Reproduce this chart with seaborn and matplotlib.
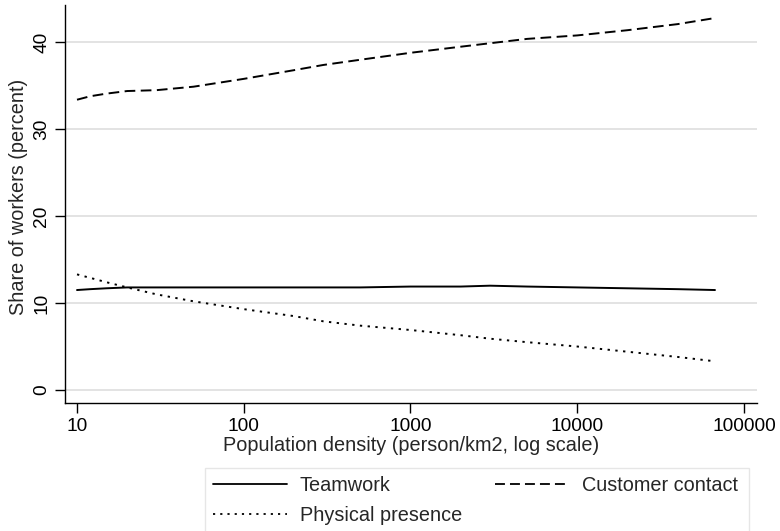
import matplotlib
matplotlib.use("Agg")
import matplotlib.pyplot as plt
from matplotlib.patches import Rectangle
import pandas as pd
import seaborn as sns

# Population density grid (person/km2) and smoothed shares (percent)
density = [10, 12, 15, 20, 30, 50, 100, 200, 300, 500, 1000, 2000, 3000, 5000, 10000, 20000, 40000, 67000]
teamwork = [11.5, 11.6, 11.7, 11.8, 11.8, 11.8, 11.8, 11.8, 11.8, 11.8, 11.9, 11.9, 12.0, 11.9, 11.8, 11.7, 11.6, 11.5]
customer_contact = [33.4, 33.8, 34.1, 34.4, 34.5, 34.9, 35.8, 36.8, 37.4, 38.0, 38.8, 39.5, 39.9, 40.4, 40.8, 41.4, 42.1, 42.8]
physical_presence = [13.3, 12.9, 12.4, 11.8, 11.0, 10.2, 9.3, 8.5, 7.9, 7.4, 6.9, 6.3, 5.9, 5.5, 5.0, 4.4, 3.8, 3.3]

series_names = ["Teamwork", "Customer contact", "Physical presence"]

df = pd.DataFrame({
    "density": density * 3,
    "share": teamwork + customer_contact + physical_presence,
    "series": sum([[n] * len(density) for n in series_names], []),
})

sns.set_style("white")
plt.rcParams["font.family"] = ["Liberation Sans", "DejaVu Sans"]
FS = 14.3
TICK_FS = 13.8
DASH = (5.5, 2.8)
DOT = (1.2, 2.8)

fig = plt.figure(figsize=(7.8, 5.31), dpi=100)
ax = fig.add_axes([65 / 780, 1 - 403 / 531, (757 - 65) / 780, (403 - 5) / 531])

sns.lineplot(data=df, x="density", y="share", hue="series", style="series",
             hue_order=series_names, style_order=series_names,
             palette=["black"] * 3,
             dashes={"Teamwork": "", "Customer contact": DASH, "Physical presence": DOT},
             linewidth=1.4, ax=ax, legend=False)

ax.set_xscale("log")
ax.set_xlim(10 ** 0.928, 10 ** 5.078)
ax.set_ylim(-1.5, 44.3)
ax.set_xticks([10, 100, 1000, 10000, 100000])
ax.set_xticklabels(["10", "100", "1000", "10000", "100000"])
ax.minorticks_off()
ax.set_yticks([0, 10, 20, 30, 40])
ax.set_yticklabels(["0", "10", "20", "30", "40"], rotation=90, va="center")

ax.yaxis.grid(True, color="#e0e0e0", linewidth=1.3)
ax.xaxis.grid(False)
ax.set_axisbelow(True)
for side in ["top", "right"]:
    ax.spines[side].set_visible(False)
for side in ["left", "bottom"]:
    ax.spines[side].set_color("black")
    ax.spines[side].set_linewidth(1.0)
ax.tick_params(axis="both", direction="out", length=7, width=1, colors="black",
               labelsize=TICK_FS, bottom=True, left=True)

ax.set_xlabel("Population density (person/km2, log scale)", fontsize=FS, labelpad=1)
ax.set_ylabel("Share of workers (percent)", fontsize=FS)
ax.yaxis.set_label_coords(-0.053, 0.518)

# column-major fill: first column Teamwork / Physical presence, second Customer contact
handles = [
    plt.Line2D([], [], color="black", linewidth=1.3, linestyle="-"),
    plt.Line2D([], [], color="black", linewidth=1.3, linestyle=(0, DOT)),
    plt.Line2D([], [], color="black", linewidth=1.3, linestyle=(0, DASH)),
]
labels = ["Teamwork", "Physical presence", "Customer contact"]
fig.legend(handles, labels, loc="upper left", bbox_to_anchor=(213 / 780, 1 - 476 / 531),
           ncol=2, fontsize=FS, handlelength=3.73, handletextpad=0.65, columnspacing=1.66,
           frameon=False, borderpad=0, borderaxespad=0, labelspacing=0.56)

# Legend box, running off the bottom edge as in the reference
fig.patches.append(Rectangle((205 / 780, -0.05), (749 - 205) / 780, 1 - 468 / 531 + 0.05,
                             transform=fig.transFigure, fill=False, edgecolor="#e6e6e6",
                             linewidth=1.0))

fig.savefig("out.png", dpi=100)
